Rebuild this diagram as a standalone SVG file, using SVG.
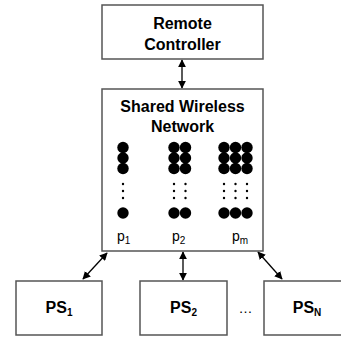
<svg xmlns="http://www.w3.org/2000/svg" width="341" height="339" viewBox="0 0 341 339">
<defs>
<marker id="ah" viewBox="0 0 10 10" refX="9" refY="5" markerWidth="8" markerHeight="8" markerUnits="userSpaceOnUse" orient="auto-start-reverse">
<path d="M0,0 L10,5 L0,10 z" fill="#000"/>
</marker>
<style>
.box{fill:#fff;stroke:#555;stroke-width:1.5}
.t{font-family:"Liberation Sans",Arial,sans-serif;font-weight:bold;font-size:16px;fill:#000;text-anchor:middle}
.p{font-family:"Liberation Sans",Arial,sans-serif;font-size:14px;fill:#000}
.sub{font-size:10px}
.c{stroke:#000;stroke-width:1.3;fill:none;marker-start:url(#ah);marker-end:url(#ah)}
.d{fill:#000}
</style>
</defs>
<g id="connectors">
<line class="c" x1="182" y1="60" x2="182" y2="88"/>
<line class="c" x1="107" y1="253" x2="83" y2="279"/>
<line class="c" x1="183" y1="252" x2="183" y2="280"/>
<line class="c" x1="258" y1="252" x2="282" y2="279"/>
</g>
<g id="remote">
<rect class="box" x="102" y="5" width="161" height="54"/>
<text class="t" x="182.5" y="29">Remote</text>
<text class="t" x="182.5" y="50">Controller</text>
</g>
<g id="network">
<rect class="box" x="102" y="89" width="161" height="162"/>
<text class="t" x="182.5" y="112">Shared Wireless</text>
<text class="t" x="182.5" y="132">Network</text>
<g class="d">
<circle cx="123" cy="147.5" r="5.7"/><circle cx="123" cy="158" r="5.7"/><circle cx="123" cy="168.5" r="5.7"/>
<circle cx="123" cy="184" r="1.2"/><circle cx="123" cy="191" r="1.2"/><circle cx="123" cy="198" r="1.2"/>
<circle cx="123" cy="213" r="5.7"/>
<circle cx="174" cy="147.5" r="5.7"/><circle cx="185.5" cy="147.5" r="5.7"/>
<circle cx="174" cy="158" r="5.7"/><circle cx="185.5" cy="158" r="5.7"/>
<circle cx="174" cy="168.5" r="5.7"/><circle cx="185.5" cy="168.5" r="5.7"/>
<circle cx="174" cy="184" r="1.2"/><circle cx="174" cy="191" r="1.2"/><circle cx="174" cy="198" r="1.2"/>
<circle cx="185.5" cy="184" r="1.2"/><circle cx="185.5" cy="191" r="1.2"/><circle cx="185.5" cy="198" r="1.2"/>
<circle cx="174" cy="213" r="5.7"/><circle cx="185.5" cy="213" r="5.7"/>
<circle cx="224" cy="147.5" r="5.7"/><circle cx="235.5" cy="147.5" r="5.7"/><circle cx="247" cy="147.5" r="5.7"/>
<circle cx="224" cy="158" r="5.7"/><circle cx="235.5" cy="158" r="5.7"/><circle cx="247" cy="158" r="5.7"/>
<circle cx="224" cy="168.5" r="5.7"/><circle cx="235.5" cy="168.5" r="5.7"/><circle cx="247" cy="168.5" r="5.7"/>
<circle cx="224" cy="184" r="1.2"/><circle cx="224" cy="191" r="1.2"/><circle cx="224" cy="198" r="1.2"/>
<circle cx="235.5" cy="184" r="1.2"/><circle cx="235.5" cy="191" r="1.2"/><circle cx="235.5" cy="198" r="1.2"/>
<circle cx="247" cy="184" r="1.2"/><circle cx="247" cy="191" r="1.2"/><circle cx="247" cy="198" r="1.2"/>
<circle cx="224" cy="213" r="5.7"/><circle cx="235.5" cy="213" r="5.7"/><circle cx="247" cy="213" r="5.7"/>
</g>
<text class="p" x="117" y="241">p<tspan class="sub" dy="3">1</tspan></text>
<text class="p" x="172" y="241">p<tspan class="sub" dy="3">2</tspan></text>
<text class="p" x="232" y="241">p<tspan class="sub" dy="3">m</tspan></text>
</g>
<g id="ps1">
<rect class="box" x="16" y="281" width="86" height="54"/>
<text class="t" x="59" y="313">PS<tspan class="sub" dy="3">1</tspan></text>
</g>
<g id="ps2">
<rect class="box" x="140" y="281" width="87" height="54"/>
<text class="t" x="183.5" y="313">PS<tspan class="sub" dy="3">2</tspan></text>
</g>
<g id="psn">
<rect class="box" x="264" y="281" width="87" height="54"/>
<text class="t" x="307" y="313">PS<tspan class="sub" dy="3">N</tspan></text>
</g>
<text class="p" x="245.5" y="313" text-anchor="middle">…</text>
</svg>
